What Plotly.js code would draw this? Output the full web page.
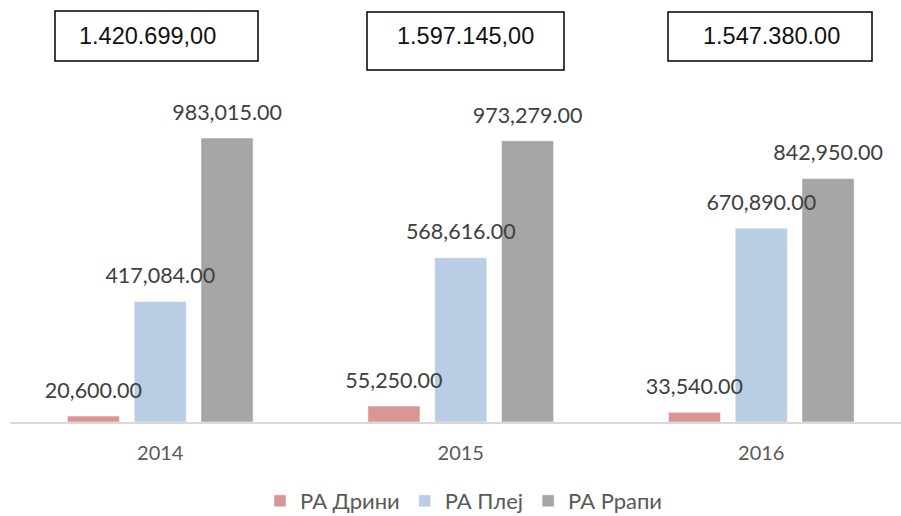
<!DOCTYPE html>
<html>
<head>
<meta charset="utf-8">
<script src="https://cdn.plot.ly/plotly-3.0.1.min.js"></script>
<style>
  body { margin: 0; background: #fff; }
  #chart { width: 901px; height: 516px; }
</style>
</head>
<body>
<div id="chart"></div>
<script>
const years = ['2014', '2015', '2016'];
const seriesNames = ['РА Дрини', 'РА Плеј', 'РА Ррапи'];
const drini = [20600, 55250, 33540];
const plej = [417084, 568616, 670890];
const rrapi = [983015, 973279, 842950];
const totals = ['1.420.699,00', '1.597.145,00', '1.547.380.00'];

const colors = ['#D99694', '#B9CDE5', '#A6A6A6'];
const series = [drini, plej, rrapi];

// plot area in pixels: left 10, top 60, bottom 422, width 891
const ML = 10, MT = 60, MB = 94, W = 901, H = 516;
const plotW = W - ML;
const plotH = H - MT - MB;
const px = x => (x - ML) / plotW;
const py = y => (H - MB - y) / plotH;

const traces = [];
series.forEach((vals, i) => {
    traces.push({
        type: 'bar',
        name: seriesNames[i],
        x: years,
        y: vals,
        marker: {color: colors[i], line: {color: '#ffffff', width: 0.5}},
        hoverinfo: 'skip'
    });
});
// data labels drawn above all bars (invisible markers push the text up)
series.forEach((vals, i) => {
    traces.push({
        type: 'scatter',
        mode: 'markers+text',
        x: years,
        y: vals,
        marker: {size: 19, opacity: 0},
        text: vals.map(v => v.toLocaleString('en-US', {minimumFractionDigits: 2})),
        textposition: 'top center',
        textfont: {family: 'Lato, sans-serif', size: 21.5, color: '#404040'},
        showlegend: false,
        hoverinfo: 'skip',
        cliponaxis: false
    });
});

const boxes = [
    {x0: 55, x1: 258, y0: 11, y1: 61, tx: 77, anchor: 'left', ty: 36},
    {x0: 367, x1: 564, y0: 12, y1: 70, tx: 465.5, anchor: 'center', ty: 36},
    {x0: 668, x1: 872, y0: 12, y1: 61, tx: 771, anchor: 'center', ty: 36}
];

const layout = {
    width: W,
    height: H,
    margin: {l: ML, r: 0, t: MT, b: MB, autoexpand: false},
    paper_bgcolor: '#ffffff',
    plot_bgcolor: '#ffffff',
    barmode: 'group',
    bargap: 0.333,
    bargroupgap: 0.22,
    scattermode: 'group',
    scattergap: 0.333,
    font: {family: 'Lato, sans-serif', color: '#595959'},
    xaxis: {
        type: 'category',
        range: [-0.5, 2.465],
        showline: true,
        linecolor: '#D9D9D9',
        linewidth: 1.5,
        ticks: '',
        ticklabelstandoff: 12,
        tickfont: {family: 'Lato, sans-serif', size: 20, color: '#595959'},
        showgrid: false,
        zeroline: false,
        automargin: false
    },
    yaxis: {
        range: [0, 1253000],
        visible: false,
        showgrid: false,
        zeroline: false
    },
    showlegend: true,
    legend: {
        orientation: 'h',
        x: px(464),
        xanchor: 'center',
        y: py(501),
        yanchor: 'middle',
        itemgap: 10,
        font: {family: 'Lato, sans-serif', size: 22, color: '#595959'}
    },
    shapes: boxes.map(b => ({
        type: 'rect',
        xref: 'paper', yref: 'paper',
        x0: px(b.x0), x1: px(b.x1),
        y0: py(b.y1), y1: py(b.y0),
        line: {color: '#000000', width: 1.5},
        fillcolor: '#ffffff'
    })),
    annotations: boxes.map((b, i) => ({
        xref: 'paper', yref: 'paper',
        x: px(b.tx), y: py(b.ty),
        xanchor: b.anchor, yanchor: 'middle',
        text: totals[i],
        showarrow: false,
        font: {family: 'Liberation Sans, Arial, sans-serif', size: 23.5, weight: 'normal', color: '#111111'}
    }))
};

Plotly.newPlot('chart', traces, layout, {displayModeBar: false, staticPlot: true});
</script>
</body>
</html>
